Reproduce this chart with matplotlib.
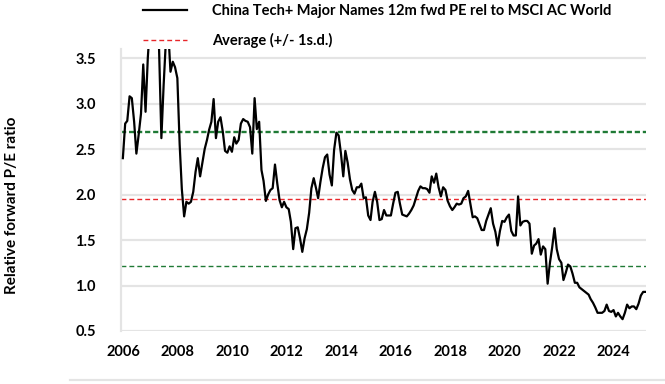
import matplotlib
matplotlib.use("Agg")
import matplotlib.pyplot as plt
import matplotlib.dates as mdates
from matplotlib.lines import Line2D
import numpy as np
import pandas as pd

plt.rcParams['font.family'] = ['Lato', 'DejaVu Sans']

# monthly relative 12m fwd PE (Dec 2005 onwards)
pe_2006_2008 = [2.40, 2.78, 2.81, 3.08, 3.06, 2.80, 2.45, 2.66, 2.89, 3.43, 2.91, 3.50,
                3.90, 4.20, 4.40, 4.00, 3.60, 2.62, 3.20, 3.70, 3.80, 3.35, 3.46, 3.40,
                3.28, 2.55]
pe_2008_2011 = [2.06, 1.76, 1.92, 1.90, 1.92, 2.03, 2.25, 2.40, 2.20, 2.35, 2.50, 2.60,
                2.71, 2.80, 3.05, 2.62, 2.80, 2.85, 2.69, 2.48, 2.46, 2.53, 2.47, 2.63,
                2.56, 2.60, 2.78, 2.83, 2.81, 2.80, 2.74, 2.45, 3.06, 2.72, 2.80, 2.27,
                2.15, 1.93, 2.00, 2.05, 2.07, 2.33, 2.12]
pe_2011_2014 = [1.94, 1.86, 1.92, 1.86, 1.84, 1.70, 1.40, 1.63, 1.64, 1.52, 1.37, 1.52,
                1.62, 1.80, 2.07, 2.18, 2.07, 1.96, 2.14, 2.29, 2.41, 2.44, 2.22, 2.10,
                2.49, 2.68, 2.65, 2.45, 2.20, 2.48, 2.35, 2.17, 2.05, 2.01, 2.08, 2.08,
                2.12, 1.96, 1.97]
pe_2014_2018 = [1.77, 1.72, 1.92, 2.03, 1.92, 1.72, 1.73, 1.83, 1.77, 1.77, 1.77, 1.90,
                2.02, 2.03, 1.90, 1.78, 1.77, 1.76, 1.79, 1.83, 1.88, 1.96, 2.04, 2.09,
                2.07, 2.07, 2.06, 2.02, 2.20, 2.13, 2.23, 2.08, 1.98, 2.08, 2.05, 1.93,
                1.87, 1.83, 1.86, 1.90]
pe_2018_2021 = [1.89, 1.90, 1.96, 1.98, 2.04, 1.90, 1.75, 1.76, 1.74, 1.67, 1.61, 1.61,
                1.71, 1.78, 1.85, 1.68, 1.59, 1.44, 1.60, 1.71, 1.70, 1.75, 1.78, 1.60,
                1.55, 1.55, 1.98, 1.66, 1.70, 1.71, 1.71, 1.68, 1.35, 1.44, 1.46, 1.51,
                1.34, 1.43, 1.40, 1.02]
pe_2021_2025 = [1.25, 1.42, 1.63, 1.40, 1.29, 1.25, 1.06, 1.14, 1.23, 1.21, 1.13, 1.03,
                1.03, 0.98, 0.96, 0.94, 0.92, 0.90, 0.85, 0.81, 0.76, 0.70, 0.70, 0.70,
                0.72, 0.79, 0.72, 0.71, 0.73, 0.66, 0.70, 0.66, 0.63, 0.70, 0.79, 0.75,
                0.77, 0.77, 0.74, 0.80, 0.89, 0.93, 0.93]

pe_rel = (pe_2006_2008 + pe_2008_2011 + pe_2011_2014 + pe_2014_2018
          + pe_2018_2021 + pe_2021_2025)
dates = pd.date_range('2005-12-31', periods=len(pe_rel), freq='ME')

avg = 1.95
sd = 0.74

series_label = 'China Tech+ Major Names 12m fwd PE rel to MSCI AC World'
avg_label = 'Average (+/- 1s.d.)'
year_ticks = list(range(2006, 2025, 2))
y_ticks = [0.5, 1.0, 1.5, 2.0, 2.5, 3.0, 3.5]

green = '#1f7a35'
red = '#e8262a'
grid_col = '#e4e4e4'

fig = plt.figure(figsize=(6.65, 3.84), dpi=100)
ax = fig.add_axes([121 / 665, 1 - 331 / 384, 525 / 665, 282 / 384])

for y in y_ticks:
    ax.axhline(y, color=grid_col, lw=1.6, zorder=0)

ax.axhline(avg + sd, color=green, lw=1.7, dashes=(2.2, 1.2), zorder=1)
mean_line = ax.axhline(avg, color=red, lw=1.0, dashes=(3.5, 2.2), zorder=1)
ax.axhline(avg - sd, color=green, lw=1.0, dashes=(3.5, 2.2), zorder=1)

pe_line, = ax.plot(dates, pe_rel, color='black', lw=1.6, zorder=3)

ax.set_ylim(0.5, 3.6)
ax.set_xlim(pd.Timestamp('2005-12-06'), pd.Timestamp('2025-03-10'))
ax.set_yticks(y_ticks)
ax.set_yticklabels([f'{v:.1f}' for v in y_ticks])
ax.set_xticks([pd.Timestamp(f'{y}-01-01') for y in year_ticks])
ax.xaxis.set_major_formatter(mdates.DateFormatter('%Y'))

for s in ['top', 'right', 'bottom']:
    ax.spines[s].set_visible(False)
ax.spines['left'].set_color(grid_col)
ax.spines['left'].set_linewidth(1.6)

ax.tick_params(axis='both', length=0, labelsize=10.5, colors='black')
ax.tick_params(axis='y', pad=18)
ax.tick_params(axis='x', pad=10)
for lab in ax.get_xticklabels() + ax.get_yticklabels():
    lab.set_fontweight('bold')

fig.text(12 / 665, 1 - 205 / 384, 'Relative forward P/E ratio', rotation=90,
         ha='center', va='center', fontsize=11, fontweight='bold')

leg = fig.legend([pe_line, mean_line], [series_label, avg_label],
                 loc='upper left', bbox_to_anchor=(143 / 665, 1 - 4 / 384),
                 frameon=False, handlelength=3.0, handletextpad=1.75,
                 labelspacing=1.0, borderpad=0.0, borderaxespad=0.0,
                 prop={'size': 10.5, 'weight': 'bold'})

fig.add_artist(Line2D([70 / 665, 1.0], [1 - 380 / 384, 1 - 380 / 384],
                      color=grid_col, lw=1.6, transform=fig.transFigure))

fig.savefig('out.png', dpi=100)
